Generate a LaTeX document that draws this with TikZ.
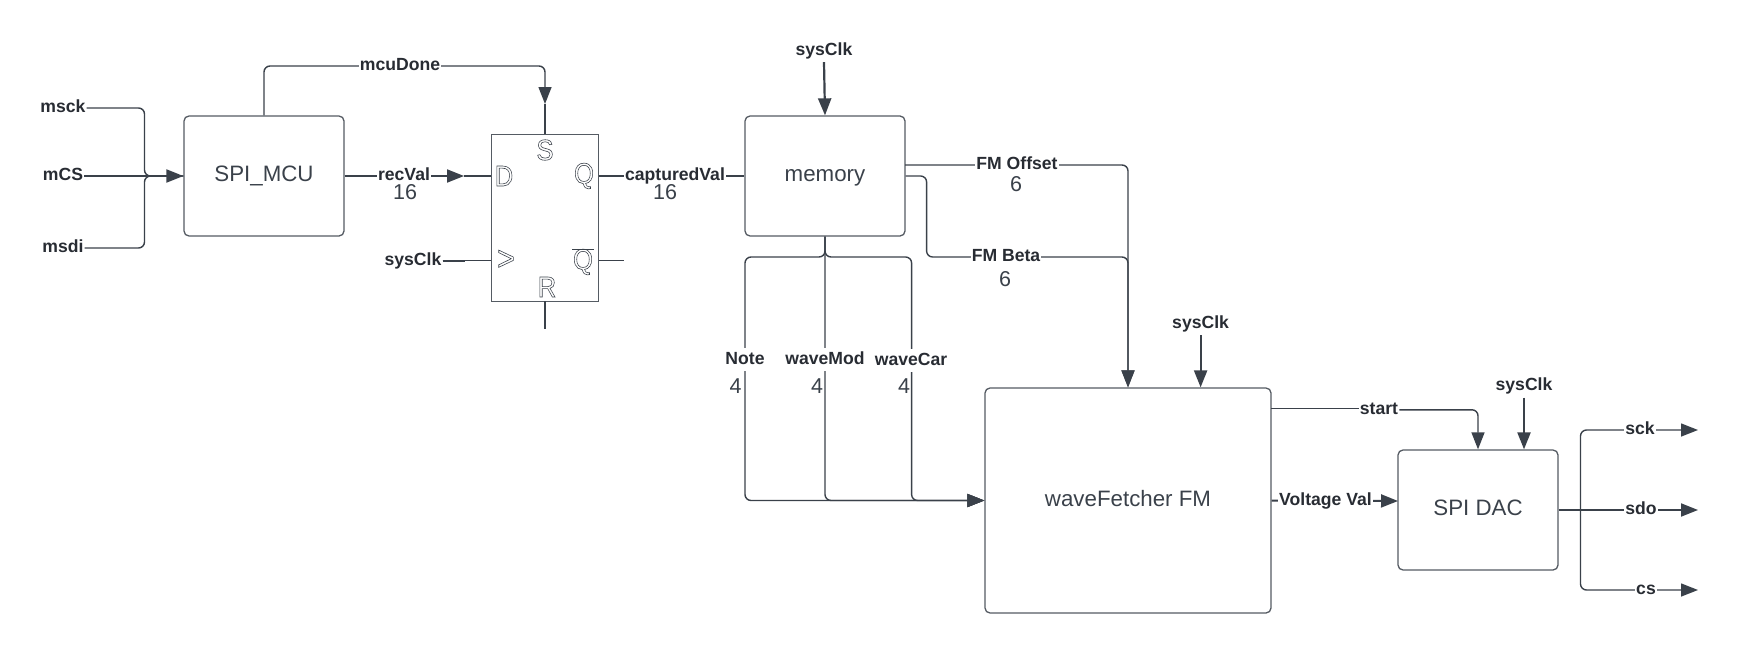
\documentclass[tikz,border=0pt]{standalone}
\usepackage{fontspec}
\setmainfont{Liberation Sans}
\usetikzlibrary{arrows.meta}
\definecolor{wire}{HTML}{3A414A}
\definecolor{boxline}{HTML}{555B63}
\definecolor{labelink}{HTML}{282C33}
\newcommand{\hollow}[1]{\special{pdf:code 1 Tr 0.6 w}#1\special{pdf:code 0 Tr}}
\tikzset{
  x=1pt,y=-1pt,
  wireline/.style={draw=wire,line width=1.4pt,rounded corners=6pt},
  arrowed/.style={wireline,-{Triangle[length=17pt,width=13pt]}},
  clockwire/.style={arrowed,line width=2.2pt},
  blockbox/.style={draw=boxline,line width=1.3pt,rounded corners=5pt,inner sep=0pt,text=wire,
    text height=16pt,text depth=5pt,font=\fontsize{22.3}{24}\selectfont},
  siglabel/.style={fill=white,inner xsep=1pt,inner ysep=1pt,text=labelink,text height=13pt,text depth=4pt,
    font=\fontsize{17.6}{20}\selectfont\bfseries},
  clocklabel/.style={inner xsep=1pt,inner ysep=3pt,text=labelink,text height=13pt,text depth=4pt,
    font=\fontsize{17.6}{20}\selectfont\bfseries},
  vertlabel/.style={siglabel,inner ysep=3pt},
  widthnum/.style={inner sep=0pt,text=wire,font=\fontsize{21.5}{24}\selectfont},
  pinletter/.style={inner sep=0pt,xscale=.88,text=wire,font=\fontsize{29}{32}\selectfont},
}
\begin{document}
\begin{tikzpicture}
\useasboundingbox (0,0) rectangle (1739,653);
% blocks
\node[blockbox,minimum width=160pt,minimum height=120pt] (mcu) at (264,176) {SPI\_MCU};
\node[draw=boxline,line width=0.8pt,inner sep=0pt,minimum width=107pt,minimum height=167pt] (ff) at (545,217.5) {};
\node[blockbox,minimum width=160pt,minimum height=120pt] (mem) at (825,176) {memory};
\node[blockbox,minimum width=286pt,minimum height=225pt] (wf) at (1128,500.5) {waveFetcher FM};
\node[blockbox,minimum width=160pt,minimum height=120pt] (dac) at (1478,510) {SPI DAC};
% flip-flop pin letters
\node[pinletter] (ffS) at (545,150) {\hollow{S}};
\node[pinletter] (ffD) at (504,176) {\hollow{D}};
\node[pinletter] (ffQ) at (584,176) {\hollow{Q}};
\node[pinletter,font=\fontsize{34}{36}\selectfont] (ffC) at (506,260) {\hollow{>}};
\node[pinletter] (ffN) at (583,262) {\hollow{Q}};
\node[pinletter] (ffR) at (547,287) {\hollow{R}};
\draw[wire,line width=0.9pt] (572,249) -- (594,249);
% signal labels without a box behind
\node[clocklabel] (clkMem) at (824,50.5) {sysClk};
\node[clocklabel] (clkWf) at (1200.6,323.5) {sysClk};
\node[clocklabel] (clkDac) at (1524,386) {sysClk};
\node[clocklabel] (clkFf) at (413,260.5) {sysClk};
\node[siglabel] (msck) at (63,108) {msck};
\node[siglabel] (mcs) at (63,176) {mCS};
\node[siglabel] (msdi) at (63,248) {msdi};
\node[siglabel] (lStart) at (1379,409.8) {start};
% free ends and bends
\coordinate (busIn) at (144.5,176);
\coordinate (mcuTop) at (545,66);
\coordinate (sTip) at (545,104);
\coordinate (recTip) at (464,176);
\coordinate (nqEnd) at (624,260.5);
\coordinate (rEnd) at (545,329);
\coordinate (memO) at (905,165);
\coordinate (betaBend) at (926.6,257);
\coordinate (noteBend) at (745,257);
\coordinate (carBend) at (911.6,257);
\coordinate (wfStart) at (1271,408.5);
\coordinate (dacIn) at (1398,501);
\coordinate (busOut) at (1580.5,510);
\coordinate (sckTip) at (1698,430);
\coordinate (sdoTip) at (1698,510);
\coordinate (csTip) at (1698,590);
% connectors
\draw[wireline] (msck.east) -| (busIn) -- (mcu.west);
\draw[wireline] (msdi.east) -| (busIn) -- (mcu.west);
\draw[arrowed,line width=2pt] (mcs.east) -- (mcu.west);
\draw[arrowed] (mcu.north) |- (mcuTop) -- (sTip);
\draw[wireline,line width=1.1pt] (sTip) -- (ff.north);
\draw[arrowed,line width=2pt] (mcu.east) -- (recTip);
\draw[wireline,line width=1.1pt] (recTip) -- (ff.west |- recTip);
\draw[wireline,line width=1.1pt] (clkFf.east) -- (ff.west |- clkFf);
\draw[wireline,line width=2pt] (clkFf.east) -- ++(22,0);
\draw[wireline,line width=1.1pt] (ff.east |- mem.west) -- (mem.west);
\draw[wireline,line width=1.1pt] (ff.east |- nqEnd) -- (nqEnd);
\draw[wireline,line width=1.1pt] (ff.south) -- (rEnd);
\draw[clockwire] (clkMem.south) -- (mem.north);
\draw[arrowed] (memO) -| (wf.north);
\draw[arrowed] (mem.east) -| (betaBend) -| (wf.north);
\draw[arrowed] (mem.south) |- (noteBend) |- (wf.west);
\draw[arrowed] (mem.south) |- (carBend) |- (wf.west);
\draw[arrowed] (mem.south) |- (wf.west);
\draw[clockwire] (clkWf.south) -- (clkWf.south |- wf.north);
\draw[wireline,line width=1.1pt] (wfStart) -- (lStart.west |- wfStart);
\draw[arrowed] (lStart.east) -| (dac.north);
\draw[clockwire] (clkDac.south) -- (clkDac.south |- dac.north);
\draw[arrowed,line width=2pt] (wf.east) -- (dacIn);
\draw[arrowed,line width=2pt] (dac.east) -- (sdoTip);
\draw[arrowed] (busOut) |- (sckTip);
\draw[arrowed] (busOut) |- (csTip);
% labels sitting on connectors
\node[siglabel] (lDone) at (400,66) {mcuDone};
\node[siglabel] (lRec) at (404,176) {recVal};
\node[siglabel] (lCap) at (675,176) {capturedVal};
\node[siglabel] (lOff) at (1017,165) {FM Offset};
\node[siglabel] (lBeta) at (1006,257) {FM Beta};
\node[vertlabel] (lNote) at (745,359.5) {Note};
\node[vertlabel] (lMod) at (825,359.5) {waveMod};
\node[vertlabel] (lCar) at (911,360.5) {waveCar};
\node[siglabel] (lVolt) at (1325.5,500.5) {Voltage Val};
\node[siglabel] (lSck) at (1640,430) {sck};
\node[siglabel] (lSdo) at (1641,510) {sdo};
\node[siglabel] (lCs) at (1646,590) {cs};
% bus widths
\node[widthnum] (n1) at (405,192) {16};
\node[widthnum] (n2) at (665,192) {16};
\node[widthnum] (n3) at (1016,184) {6};
\node[widthnum] (n4) at (1005,279) {6};
\node[widthnum] (n5) at (735.6,386) {4};
\node[widthnum] (n6) at (817,386) {4};
\node[widthnum] (n7) at (904,386) {4};
\end{tikzpicture}
\end{document}
